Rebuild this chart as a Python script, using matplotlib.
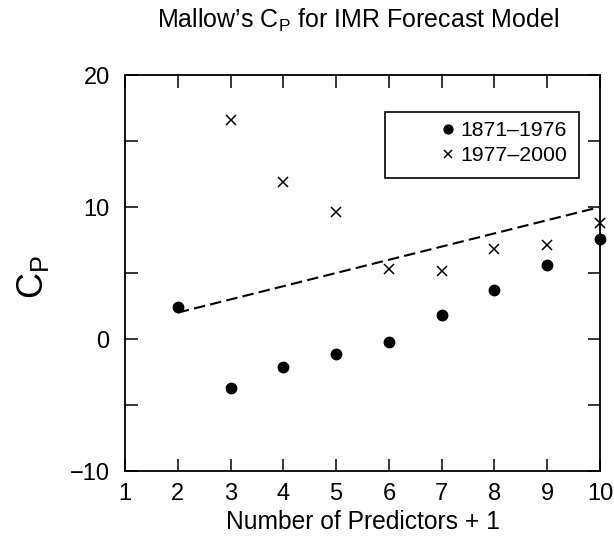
import matplotlib
matplotlib.use("Agg")
import matplotlib.pyplot as plt
from matplotlib.patches import Rectangle

plt.rcParams['font.family'] = ['Liberation Sans', 'DejaVu Sans']
plt.rcParams['mathtext.fontset'] = 'custom'
plt.rcParams['mathtext.rm'] = 'Liberation Sans'

# numero de predictores + 1
p = [2, 3, 4, 5, 6, 7, 8, 9, 10]

# Cp para cada periodo
cp_1871 = [2.4, -3.7, -2.1, -1.1, -0.2, 1.8, 3.7, 5.6, 7.6]
cp_1977 = [None, 16.6, 11.9, 9.6, 5.3, 5.15, 6.8, 7.1, 8.8]

# recta de referencia Cp = p
ref_x = [2, 10]
ref_y = [2, 10]

W, H = 614, 540
fig = plt.figure(figsize=(W / 100, H / 100), dpi=100)
ax = fig.add_axes([125/W, 1 - 471/H, 475/W, 396/H])

ax.plot(ref_x, ref_y, '--', color='black', linewidth=1.5, dashes=(5.5, 2.5))
ax.plot(p, cp_1871, 'o', color='black', markersize=7.5, clip_on=False, label='1871\u20131976')
x2 = [x for x, y in zip(p, cp_1977) if y is not None]
y2 = [y for y in cp_1977 if y is not None]
ax.plot(x2, y2, 'x', color='black', markersize=7.2, markeredgewidth=1.1, clip_on=False,
        label='1977\u20132000')

ax.set_xlim(1, 10)
ax.set_ylim(-10, 20)
ax.set_xticks(range(1, 11))
ax.set_yticks([-10, 0, 10, 20])
ax.set_yticks([-5, 5, 15], minor=True)
ax.set_yticklabels(['\u221210', '0', '10', '20'])
ax.tick_params(which='both', direction='in', top=True, right=True, labelsize=17,
               length=9, width=1.1)
ax.tick_params(axis='y', pad=11)
ax.tick_params(axis='x', pad=9)
for s in ax.spines.values():
    s.set_linewidth(1.3)

ax.set_xlabel('Number of Predictors + 1', fontsize=17.7)
ax.xaxis.set_label_coords(0.501, -0.098)
ax.set_ylabel('C$_\\mathrm{P}$', fontsize=26)
ax.yaxis.set_label_coords(-0.155, 0.49)
fig.text(358/W, 1 - 28/H, "Mallow\u2019s C$_\\mathrm{P}$ for IMR Forecast Model",
         ha='center', va='baseline', fontsize=18)

# leyenda con marco dibujado aparte
leg = ax.legend(loc='upper right', bbox_to_anchor=(567/W, 1 - 121/H),
                bbox_transform=fig.transFigure, fontsize=15.3, frameon=False,
                handlelength=0.7, handletextpad=0.25, borderpad=0, labelspacing=0.3,
                borderaxespad=0, markerscale=0.85)
fig.patches.append(Rectangle((385/W, 1 - 178/H), 194/W, 66/H, transform=fig.transFigure,
                             fill=False, edgecolor='black', linewidth=1.2))

fig.savefig('out.png', dpi=100)
